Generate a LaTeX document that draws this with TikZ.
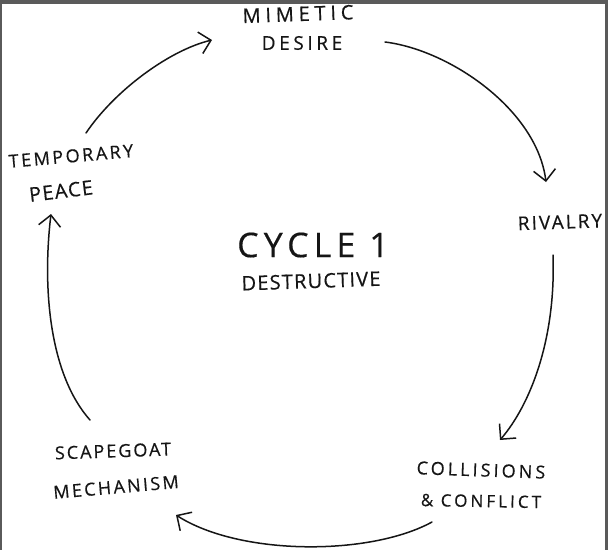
\documentclass[tikz,border=0pt]{standalone}
\usepackage{fontspec}
\setmainfont{Open Sans}[FakeBold=0.4]
\usetikzlibrary{arrows.meta}
\newcommand\hw[2]{\fontsize{#1}{#1}\selectfont\addfontfeatures{LetterSpace=#2}}
\definecolor{ink}{HTML}{151515}
\definecolor{frame}{HTML}{5A5A5A}
\tikzset{
  lbl/.style={inner sep=0pt, text=ink, anchor=center},
  cyc/.style={draw=ink, line width=1.5pt, line cap=round,
    -{Straight Barb[length=11pt,width=22pt,line width=1.5pt]}}
}
\begin{document}
\begin{tikzpicture}[x=1pt,y=-1pt]
\useasboundingbox (0,0) rectangle (608,550);
\fill[white] (0,0) rectangle (608,550);
\fill[frame] (0,0) rectangle (608,3.5);
\fill[frame] (0,0) rectangle (1.5,550);
\fill[frame] (604.5,0) rectangle (608,550);

\node[lbl, rotate=2] (mim) at (298,14) {\hw{20}{24}MIMETIC};
\node[lbl] (des) at (302,43) {\hw{19}{19}DESIRE};
\node[lbl, rotate=5] (tem) at (71,156) {\hw{18}{14}TEMPORARY};
\node[lbl, rotate=7] (pea) at (61,191) {\hw{20}{6}PEACE};
\node[lbl, rotate=2] (riv) at (560,222) {\hw{19}{11}RIVALRY};
\node[lbl] (cyc) at (313,245) {\hw{34}{15}CYCLE 1};
\node[lbl, rotate=2] (dst) at (311,281) {\hw{20}{6}DESTRUCTIVE};
\node[lbl, rotate=-2] (col) at (481,470) {\hw{18}{17}COLLISIONS};
\node[lbl, rotate=-1] (con) at (481,501) {\hw{17}{18}\& CONFLICT};
\node[lbl, rotate=2] (sca) at (113,451) {\hw{18}{11}SCAPEGOAT};
\node[lbl, rotate=5] (mec) at (116,487) {\hw{18}{13}MECHANISM};

\coordinate (a1s) at (86,133);  \coordinate (a1e) at (212,40);
\coordinate (a2s) at (385,42);  \coordinate (a2e) at (546,182);
\coordinate (a3s) at (553,255); \coordinate (a3e) at (500,440);
\coordinate (a4s) at (432,522); \coordinate (a4e) at (176,515);
\coordinate (a5s) at (90,420);  \coordinate (a5e) at (51,214);

\draw[cyc] (a1s) .. controls (115,90) and (170,50) .. (a1e);
\draw[cyc] (a2s) .. controls (450,50) and (537,110) .. (a2e);
\draw[cyc] (a3s) .. controls (556,340) and (530,405) .. (a3e);
\draw[cyc] (a4s) .. controls (370,556) and (240,556) .. (a4e);
\draw[cyc] (a5s) .. controls (50,375) and (42,290) .. (a5e);
\end{tikzpicture}
\end{document}
